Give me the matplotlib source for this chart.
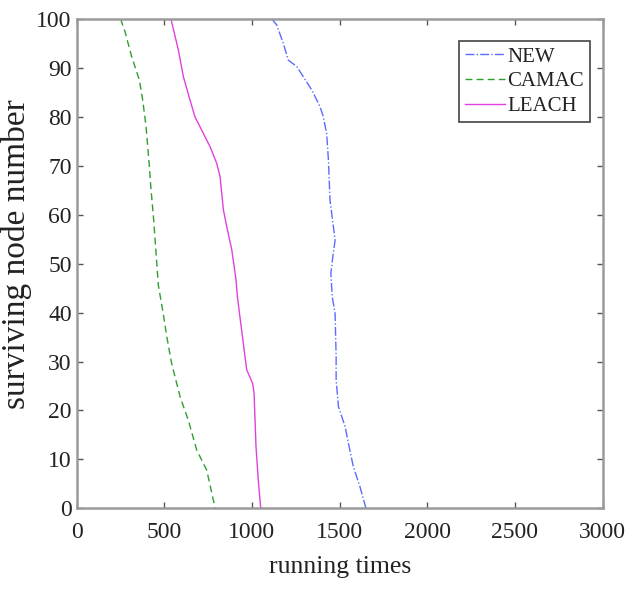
import matplotlib
matplotlib.use("Agg")
import matplotlib.pyplot as plt
from matplotlib.ticker import MultipleLocator

# ---- data ----
new_x = [1113, 1141, 1179, 1207, 1255, 1293, 1341, 1388, 1407, 1426, 1436, 1445, 1464, 1474,
         1461, 1450, 1458, 1474, 1480, 1480, 1493, 1531, 1550, 1578, 1616, 1650]
new_y = [100, 98.8, 95, 91.6, 90.3, 88.2, 85.5, 82.1, 80, 76.6, 71.2, 63, 57.6, 54.8,
         51.4, 48, 43.2, 39.8, 31, 26.2, 20.8, 16.7, 13.3, 8.5, 4.4, 0]

camac_x = [251, 276, 314, 358, 377, 396, 415, 423, 438, 453, 466, 494, 514, 542, 590, 637, 685, 742, 790]
camac_y = [100, 97.4, 92.3, 87.5, 83.4, 78, 69.8, 65.7, 59.6, 52.1, 45.6, 39.8, 35.1, 29.6, 22.8, 18, 11.9, 7.8, 0]

leach_x = [538, 580, 609, 647, 675, 723, 761, 799, 818, 837, 856, 885, 909, 917, 941, 970,
           1004, 1012, 1023, 1036, 1050]
leach_y = [100, 93.7, 88.2, 83.4, 80, 76.6, 73.9, 70.5, 67.8, 61, 57.6, 52.8, 46.7, 43.2, 36.4, 28.3,
           25.5, 23.5, 12.6, 5.8, 0]

series_names = ["NEW", "CAMAC", "LEACH"]
x_label = "running times"
y_label = "surviving node number"

plt.rcParams['font.family'] = ['Liberation Serif', 'DejaVu Serif']

fig = plt.figure(figsize=(6.27, 5.89), dpi=100)
ax = fig.add_axes([0.1222, 0.137, 0.8390, 0.8307])

ax.plot(new_x, new_y, linestyle='-.', color='#5a6cff', linewidth=1.0, label=series_names[0])
ax.plot(camac_x, camac_y, linestyle='--', color='#2f9e2f', linewidth=1.0, dashes=(5, 3), label=series_names[1])
ax.plot(leach_x, leach_y, linestyle='-', color='#e040e0', linewidth=1.0, label=series_names[2])

ax.set_xlim(0, 3000)
ax.set_ylim(0, 100)
ax.xaxis.set_major_locator(MultipleLocator(500))
ax.yaxis.set_major_locator(MultipleLocator(10))
ax.tick_params(direction='in', top=True, right=True, length=4, width=1.0,
               color='#555555', labelsize=17, labelcolor='#222222')
ax.tick_params(axis='x', pad=10)
for s in ax.spines.values():
    s.set_color('#9a9a9a')
    s.set_linewidth(1.8)

ax.set_xlabel(x_label, fontsize=18.5, color='#222222', labelpad=9)
ax.set_ylabel(y_label, fontsize=24, color='#222222', labelpad=3)
ax.yaxis.set_label_coords(-0.085, 0.52)

leg = ax.legend(loc='upper right', bbox_to_anchor=(0.9835, 0.964), fontsize=15, fancybox=False,
                framealpha=1, edgecolor='#444444', borderpad=0.3, labelspacing=0.25,
                handlelength=1.9, handletextpad=0.1, borderaxespad=0.2)
leg.get_frame().set_linewidth(1.2)
for t in leg.get_texts():
    t.set_color('#222222')

fig.savefig('out.png', dpi=100)
